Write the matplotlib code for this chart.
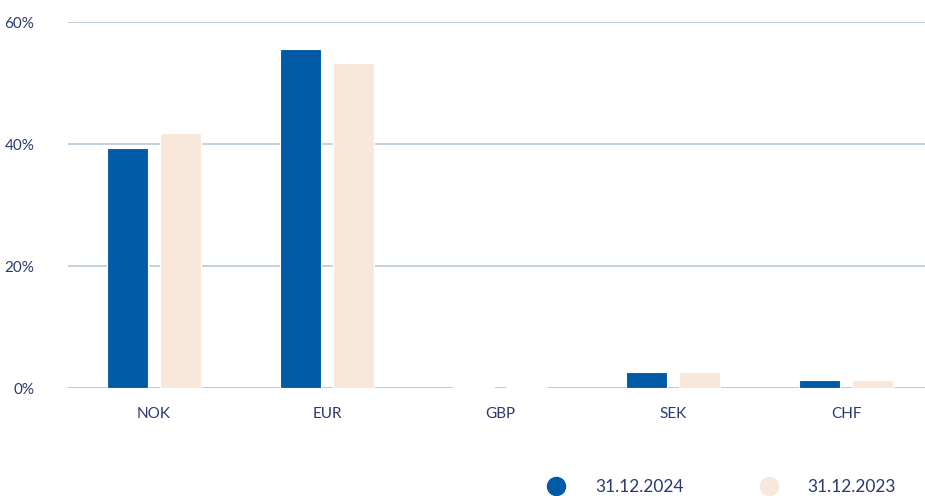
import matplotlib.pyplot as plt
import numpy as np

currencies = ['NOK', 'EUR', 'GBP', 'SEK', 'CHF']
share_2024 = [39.3, 55.6, 0.1, 2.6, 1.3]
share_2023 = [41.8, 53.3, 0.1, 2.6, 1.3]
tick_values = [0, 20, 40, 60]
tick_labels = ['0%', '20%', '40%', '60%']

blue = '#005aa6'
beige = '#f7e8db'
grid_col = '#b9c9da'
text_col = '#2b3a6e'

plt.rcParams['font.family'] = ['Lato', 'DejaVu Sans']

fig = plt.figure(figsize=(9.25, 4.96), dpi=100)
ax = fig.add_axes([67.5 / 925, 1 - 388 / 496, 865 / 925, (388 - 22) / 496])

x = np.arange(len(currencies))
w = 0.24
ax.bar(x - 0.153, share_2024, w, color=blue, edgecolor='white', linewidth=0.8, zorder=3)
ax.bar(x + 0.153, share_2023, w, color=beige, edgecolor='white', linewidth=0.8, zorder=3)

ax.set_xlim(-0.5, len(currencies) - 0.5)
ax.set_ylim(0, 60)
ax.set_yticks(tick_values)
ax.set_yticklabels(tick_labels)
ax.set_xticks(x)
ax.set_xticklabels(currencies)
ax.tick_params(axis='both', length=0, colors=text_col, labelsize=11)
ax.tick_params(axis='y', pad=24)
ax.tick_params(axis='x', pad=14)
ax.grid(axis='y', color=grid_col, linewidth=1.2, zorder=0)
for s in ax.spines.values():
    s.set_visible(False)
ax.axhline(0, color=grid_col, linewidth=2, zorder=2)

# legend drawn as markers + text in figure coords
for xc, xt, col, lab in [(556, 595, blue, '31.12.2024'), (769, 807, beige, '31.12.2023')]:
    fig.add_artist(plt.Line2D([xc / 925], [1 - 486 / 496], marker='o', markersize=13,
                              color=col, linestyle='none'))
    fig.text(xt / 925, 1 - 487 / 496, lab, color=text_col, fontsize=12.5, va='center')

fig.savefig('out.png', dpi=100)
